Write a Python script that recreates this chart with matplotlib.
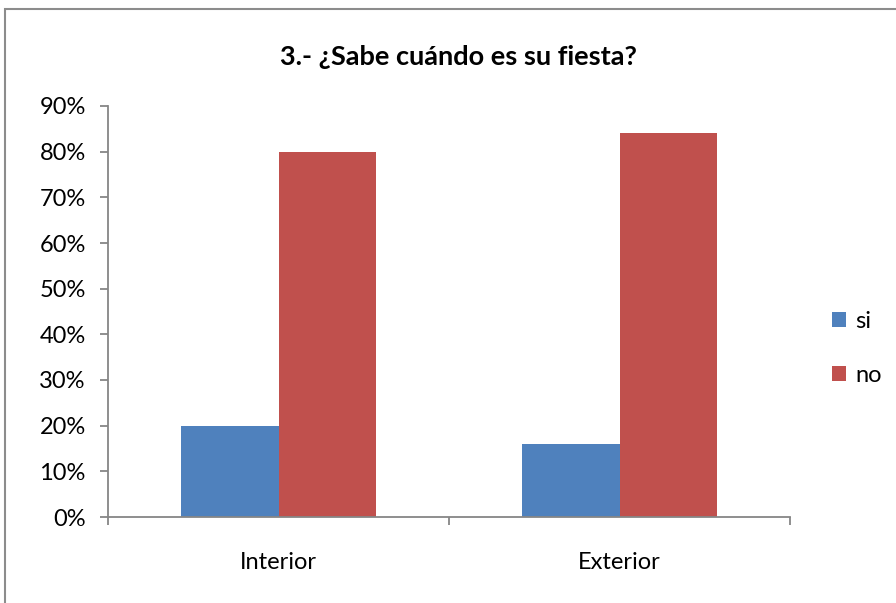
import matplotlib.pyplot as plt
from matplotlib.patches import Rectangle
import numpy as np

categories = ['Interior', 'Exterior']
si = [20, 16]
no = [80, 84]
yticks = [0, 10, 20, 30, 40, 50, 60, 70, 80, 90]

plt.rcParams['font.family'] = ['Lato', 'DejaVu Sans']

fig = plt.figure(figsize=(8.96, 6.03), dpi=100)
ax = fig.add_axes([108 / 896, 1 - 517 / 603, 682 / 896, 411 / 603])

x = np.arange(len(categories))
w = 0.285
ax.bar(x - w / 2, si, w, color='#4f81bd', label='si')
ax.bar(x + w / 2, no, w, color='#c0504d', label='no')

ax.set_xlim(-0.5, 1.5)
ax.set_ylim(0, 90)
ax.set_yticks(yticks)
ax.set_yticklabels([f'{v}%' for v in yticks], fontsize=17)
ax.set_xticks([-0.5, 0.5, 1.5])
ax.set_xticklabels([])
ax.set_xticks(x, minor=True)
ax.set_xticklabels(categories, minor=True, fontsize=17)
ax.tick_params(axis='x', which='minor', length=0, pad=25)
ax.tick_params(axis='both', which='major', color='#868686', length=6, width=1.3)
ax.tick_params(axis='y', pad=10)

for s in ['top', 'right']:
    ax.spines[s].set_visible(False)
for s in ['left', 'bottom']:
    ax.spines[s].set_color('#868686')
    ax.spines[s].set_linewidth(1.3)

ax.legend(loc='center left', bbox_to_anchor=(1.03, 0.41), frameon=False,
          fontsize=17, handlelength=0.6, handleheight=0.6, handletextpad=0.4,
          labelspacing=1.4)

fig.text(458 / 896, 1 - 57 / 603, '3.- ¿Sabe cuándo es su fiesta?',
         ha='center', va='center', fontsize=19.5, fontweight='bold')

fig.patches.append(Rectangle((5 / 896, -0.1), 1.1, 1 - 9 / 603 + 0.1,
                             transform=fig.transFigure, fill=False,
                             edgecolor='#8c8c8c', linewidth=1.5))

fig.savefig('out.png', dpi=100)
